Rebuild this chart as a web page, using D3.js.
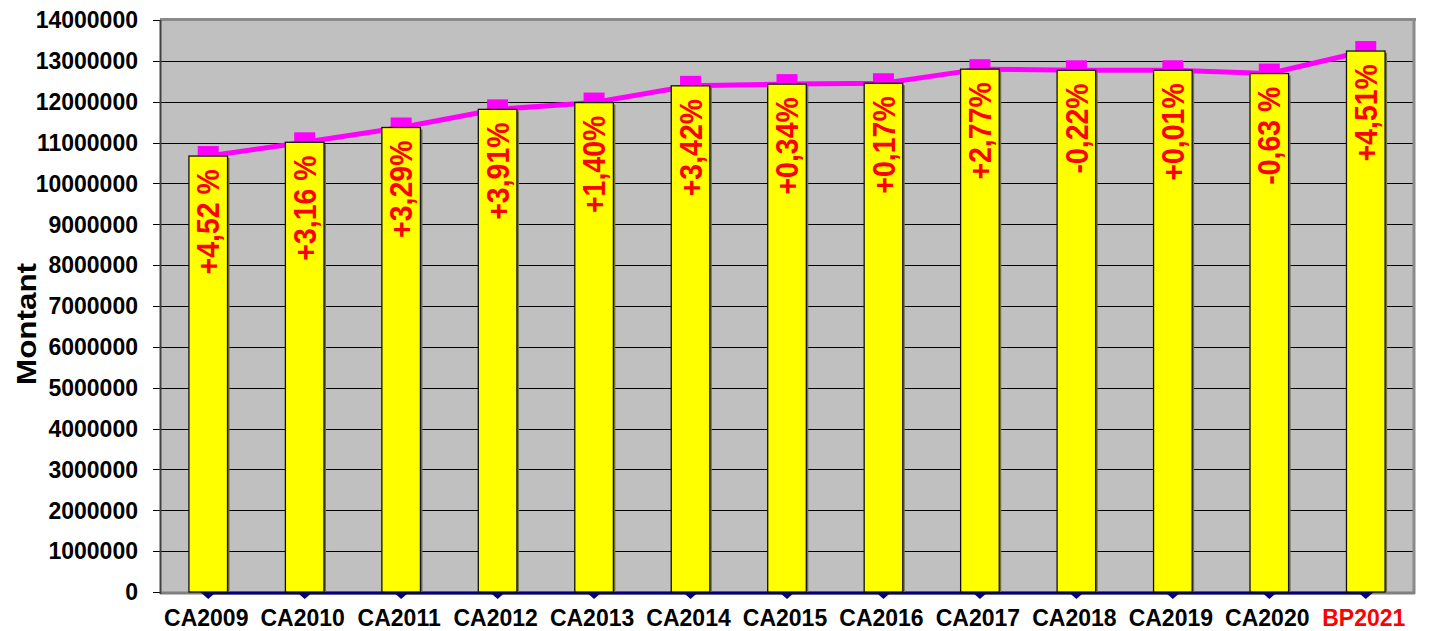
<!DOCTYPE html>
<html>
<head>
<meta charset="utf-8">
<title>Montant</title>
<script src="https://d3js.org/d3.v7.min.js"></script>
<style>
  body { margin: 0; background: #fff; }
  text { font-family: "Liberation Sans", Arial, sans-serif; font-weight: bold; }
</style>
</head>
<body>
<div id="chart"></div>
<script>
// data
var categories = ["CA2009","CA2010","CA2011","CA2012","CA2013","CA2014","CA2015","CA2016","CA2017","CA2018","CA2019","CA2020","BP2021"];
var montants = [10670000, 11007000, 11369000, 11813000, 11979000, 12389000, 12431000, 12452000, 12797000, 12769000, 12770000, 12690000, 13240000];
var evolution = ["+4,52 %","+3,16 %","+3,29%","+3,91%","+1,40%","+3,42%","+0,34%","+0,17%","+2,77%","-0,22%","+0,01%","-0,63 %","+4,51%"];
var serieZero = [0,0,0,0,0,0,0,0,0,0,0,0,0];
var yTicks = [0,1000000,2000000,3000000,4000000,5000000,6000000,7000000,8000000,9000000,10000000,11000000,12000000,13000000,14000000];

var W = 1433, H = 631;
var pLeft = 160, pRight = 1414, pTop = 20, pBottom = 592;

var svg = d3.select("#chart").append("svg").attr("width", W).attr("height", H);

var x = d3.scaleBand().domain(categories).range([pLeft, pRight]).padding(0);
var y = d3.scaleLinear().domain([0, 14000000]).range([pBottom, pTop]);
var step = x.step(), bw = step * 0.4;
function cx(d) { return x(d) + step / 2; }

// plot background
svg.append("rect").attr("x", pLeft).attr("y", pTop).attr("width", pRight - pLeft).attr("height", pBottom - pTop)
  .style("fill", "#c0c0c0");

// grid lines + ticks
svg.selectAll(".grid").data(yTicks).enter().append("line")
  .attr("x1", pLeft - 7).attr("x2", pRight)
  .attr("y1", function(d){ return Math.round(y(d)) + 0.5; })
  .attr("y2", function(d){ return Math.round(y(d)) + 0.5; })
  .style("stroke", "#000").style("stroke-width", 1.2);

svg.selectAll(".ylab").data(yTicks).enter().append("text")
  .attr("x", 138).attr("y", function(d){ return y(d); }).attr("dy", "0.36em")
  .attr("text-anchor", "end").style("font-size", "23px").style("fill", "#000")
  .text(function(d){ return d; });

// borders
svg.append("line").attr("x1", pLeft).attr("x2", pRight + 2).attr("y1", pTop - 0.5).attr("y2", pTop - 0.5)
  .style("stroke", "#8a8a8a").style("stroke-width", 3);
svg.append("line").attr("x1", pRight).attr("x2", pRight).attr("y1", pTop - 2).attr("y2", pBottom + 2)
  .style("stroke", "#8a8a8a").style("stroke-width", 3);
svg.append("line").attr("x1", pLeft).attr("x2", pRight + 1).attr("y1", pBottom + 1).attr("y2", pBottom + 1)
  .style("stroke", "#808080").style("stroke-width", 3);
svg.append("line").attr("x1", pLeft + 0.5).attr("x2", pLeft + 0.5).attr("y1", pTop).attr("y2", pBottom + 2)
  .style("stroke", "#404040").style("stroke-width", 2);

// magenta line with square markers
var line = d3.line().x(function(d, i){ return cx(categories[i]); }).y(function(d){ return y(d); });
svg.append("path").datum(montants).attr("d", line)
  .style("fill", "none").style("stroke", "#ff00ff").style("stroke-width", 5);
svg.selectAll(".sq").data(montants).enter().append("rect")
  .attr("x", function(d, i){ return cx(categories[i]) - 10.5; })
  .attr("y", function(d){ return y(d) - 10; })
  .attr("width", 21).attr("height", 20)
  .style("fill", "#ff00ff");

// navy series at zero with diamonds
var line0 = d3.line().x(function(d, i){ return cx(categories[i]); }).y(function(d){ return y(d) + 1; });
svg.append("path").datum(serieZero).attr("d", line0)
  .style("fill", "none").style("stroke", "#000080").style("stroke-width", 3);
svg.selectAll(".dia").data(serieZero).enter().append("path")
  .attr("d", function(d, i){
    var px = cx(categories[i]), py = y(d);
    return "M" + (px - 8) + "," + py + "L" + px + "," + (py - 7) + "L" + (px + 8) + "," + py + "L" + px + "," + (py + 7) + "Z";
  })
  .style("fill", "#000080");

// bars
svg.selectAll(".shadow").data(montants).enter().append("rect")
  .attr("x", function(d, i){ return cx(categories[i]) - bw / 2 + 2; })
  .attr("y", function(d){ return y(d) + 2; })
  .attr("width", bw).attr("height", function(d){ return pBottom - y(d) - 2; })
  .style("fill", "#6e6e50");
svg.selectAll(".bar").data(montants).enter().append("rect")
  .attr("x", function(d, i){ return cx(categories[i]) - bw / 2; })
  .attr("y", function(d){ return y(d); })
  .attr("width", bw).attr("height", function(d){ return pBottom - y(d); })
  .style("fill", "#ffff00").style("stroke", "#111").style("stroke-width", 1.3);

// percentage labels inside bars
svg.selectAll(".pct").data(evolution).enter().append("text")
  .attr("transform", function(d, i){
    return "translate(" + cx(categories[i]) + "," + (y(montants[i]) + 13) + ") rotate(-90) scale(0.92,1)";
  })
  .attr("dy", "0.36em").attr("text-anchor", "end")
  .style("font-size", "31px").style("fill", "#ff0000")
  .text(function(d){ return d; });

// x labels
svg.selectAll(".xlab").data(categories).enter().append("text")
  .attr("x", function(d){ return cx(d) - 2; }).attr("y", 626)
  .attr("text-anchor", "middle").style("font-size", "23px")
  .style("fill", function(d){ return d === "BP2021" ? "#ff0000" : "#000"; })
  .text(function(d){ return d; });

// y axis title
svg.append("text").attr("transform", "translate(36,324) rotate(-90)")
  .attr("text-anchor", "middle").attr("textLength", 122).attr("lengthAdjust", "spacingAndGlyphs")
  .style("font-size", "28px").style("fill", "#000")
  .text("Montant");
</script>
</body>
</html>
